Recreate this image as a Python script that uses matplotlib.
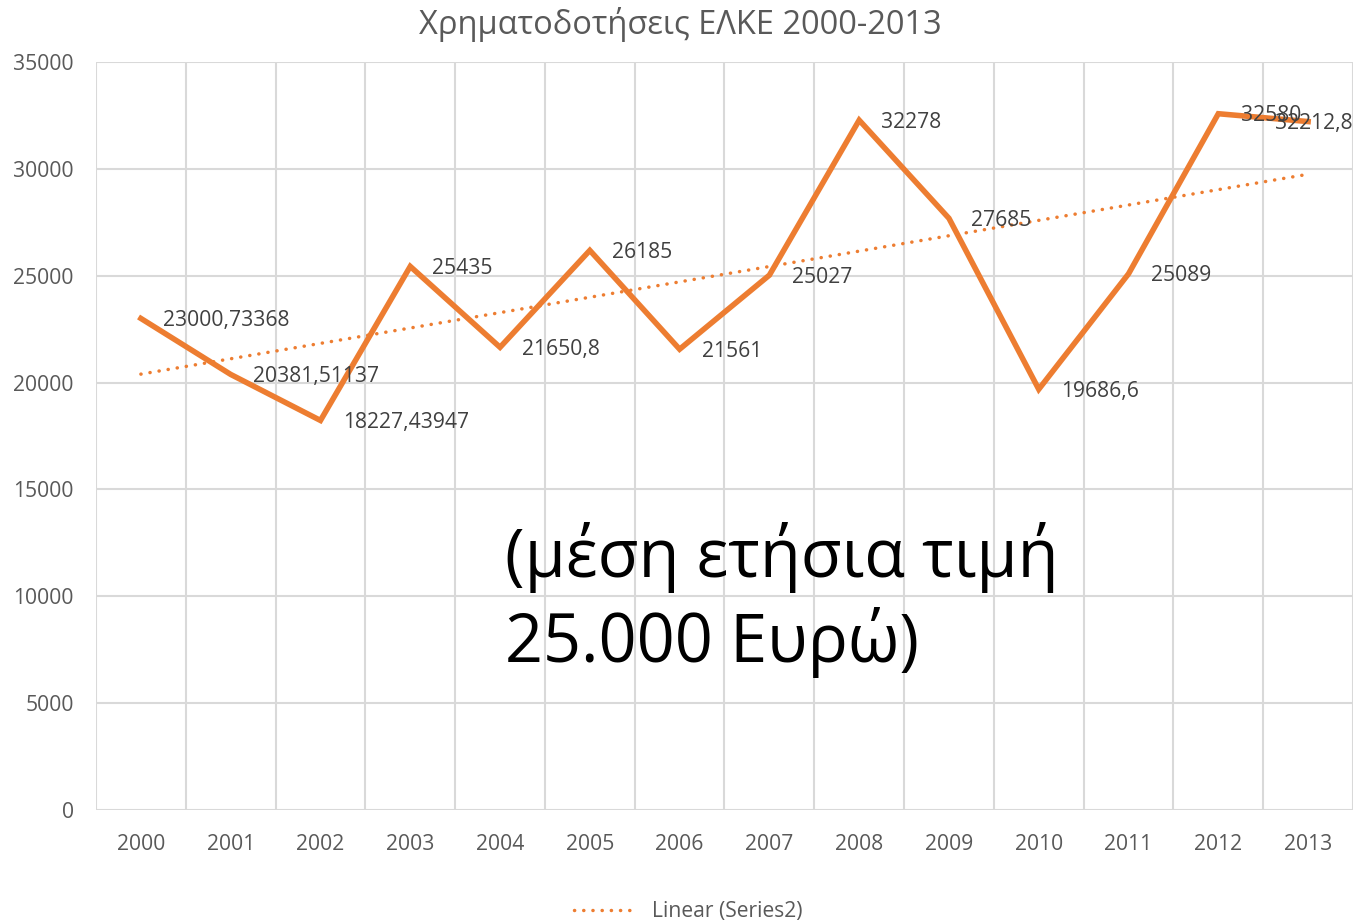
import numpy as np
import matplotlib
matplotlib.use('Agg')
import matplotlib.pyplot as plt
from matplotlib.lines import Line2D

# Χρηματοδοτήσεις ΕΛΚΕ ανά έτος
years = [2000, 2001, 2002, 2003, 2004, 2005, 2006, 2007,
         2008, 2009, 2010, 2011, 2012, 2013]
values = [23000.73368, 20381.51137, 18227.43947, 25435, 21650.8, 26185, 21561,
          25027, 32278, 27685, 19686.6, 25089, 32580, 32212.8]
y_ticks = [0, 5000, 10000, 15000, 20000, 25000, 30000, 35000]

title = 'Χρηματοδοτήσεις ΕΛΚΕ 2000-2013'
note = '(μέση ετήσια τιμή\n25.000 Ευρώ)'
legend_label = 'Linear (Series2)'

orange = '#ED7D31'
gray_txt = '#595959'
grid_col = '#D9D9D9'
dots = (0, (0.05, 2.6))

plt.rcParams['font.family'] = ['Open Sans', 'DejaVu Sans']


def fmt(v):
    s = f'{v:.5f}'.rstrip('0').rstrip('.')
    return s.replace('.', ',')


fig = plt.figure(figsize=(13.55, 9.24), dpi=100)
ax = fig.add_axes([96 / 1355, 114 / 924, 1257 / 1355, 748 / 924])

x = np.arange(len(years))
ax.plot(x, values, color=orange, lw=4.0, solid_joinstyle='miter', zorder=4)

# γραμμική τάση (όπως το trendline του Excel)
coef = np.polyfit(x, values, 1)
ax.plot(x, np.polyval(coef, x), color=orange, lw=2.5,
        linestyle=dots, dash_capstyle='round', zorder=3)

# ετικέτες τιμών
for i, v in enumerate(values):
    if i == len(values) - 1:
        ax.annotate(fmt(v), xy=(1.0, v), xycoords=('axes fraction', 'data'),
                    xytext=(0, -1.5), textcoords='offset points',
                    ha='right', va='center', fontsize=15.2, color='#404040', zorder=5)
    else:
        ax.annotate(fmt(v), xy=(i, v), xytext=(16, -1.5), textcoords='offset points',
                    ha='left', va='center', fontsize=15.2, color='#404040', zorder=5)

ax.set_xlim(-0.5, len(years) - 0.5)
ax.set_ylim(0, 35000)
ax.set_xticks(x)
ax.set_xticklabels([str(y) for y in years])
ax.set_xticks(np.arange(-0.5, len(years)), minor=True)
ax.set_yticks(y_ticks)
ax.tick_params(axis='both', which='both', length=0, colors=gray_txt, labelsize=15.2)
ax.tick_params(axis='x', pad=17)
ax.tick_params(axis='y', pad=16)
ax.grid(True, axis='y', which='major', color=grid_col, lw=1.5)
ax.grid(True, axis='x', which='minor', color=grid_col, lw=1.5)
ax.set_axisbelow(True)
for s in ax.spines.values():
    s.set_visible(False)

fig.text(0.502, 1 - 25 / 924, title, ha='center', va='center', fontsize=23.5, color=gray_txt)

fig.text(505 / 1355, 1 - 600 / 924, note, ha='left', va='center', fontsize=48,
         color='black', linespacing=1.27)

fig.legend([Line2D([0], [0], color=orange, lw=2.5, linestyle=dots,
                   dash_capstyle='round')], [legend_label],
           loc='center', bbox_to_anchor=(0.508, 1 - 912 / 924), frameon=False,
           fontsize=15.2, labelcolor=gray_txt, handlelength=3.0, handletextpad=0.7)

fig.savefig('out.png', dpi=100)
